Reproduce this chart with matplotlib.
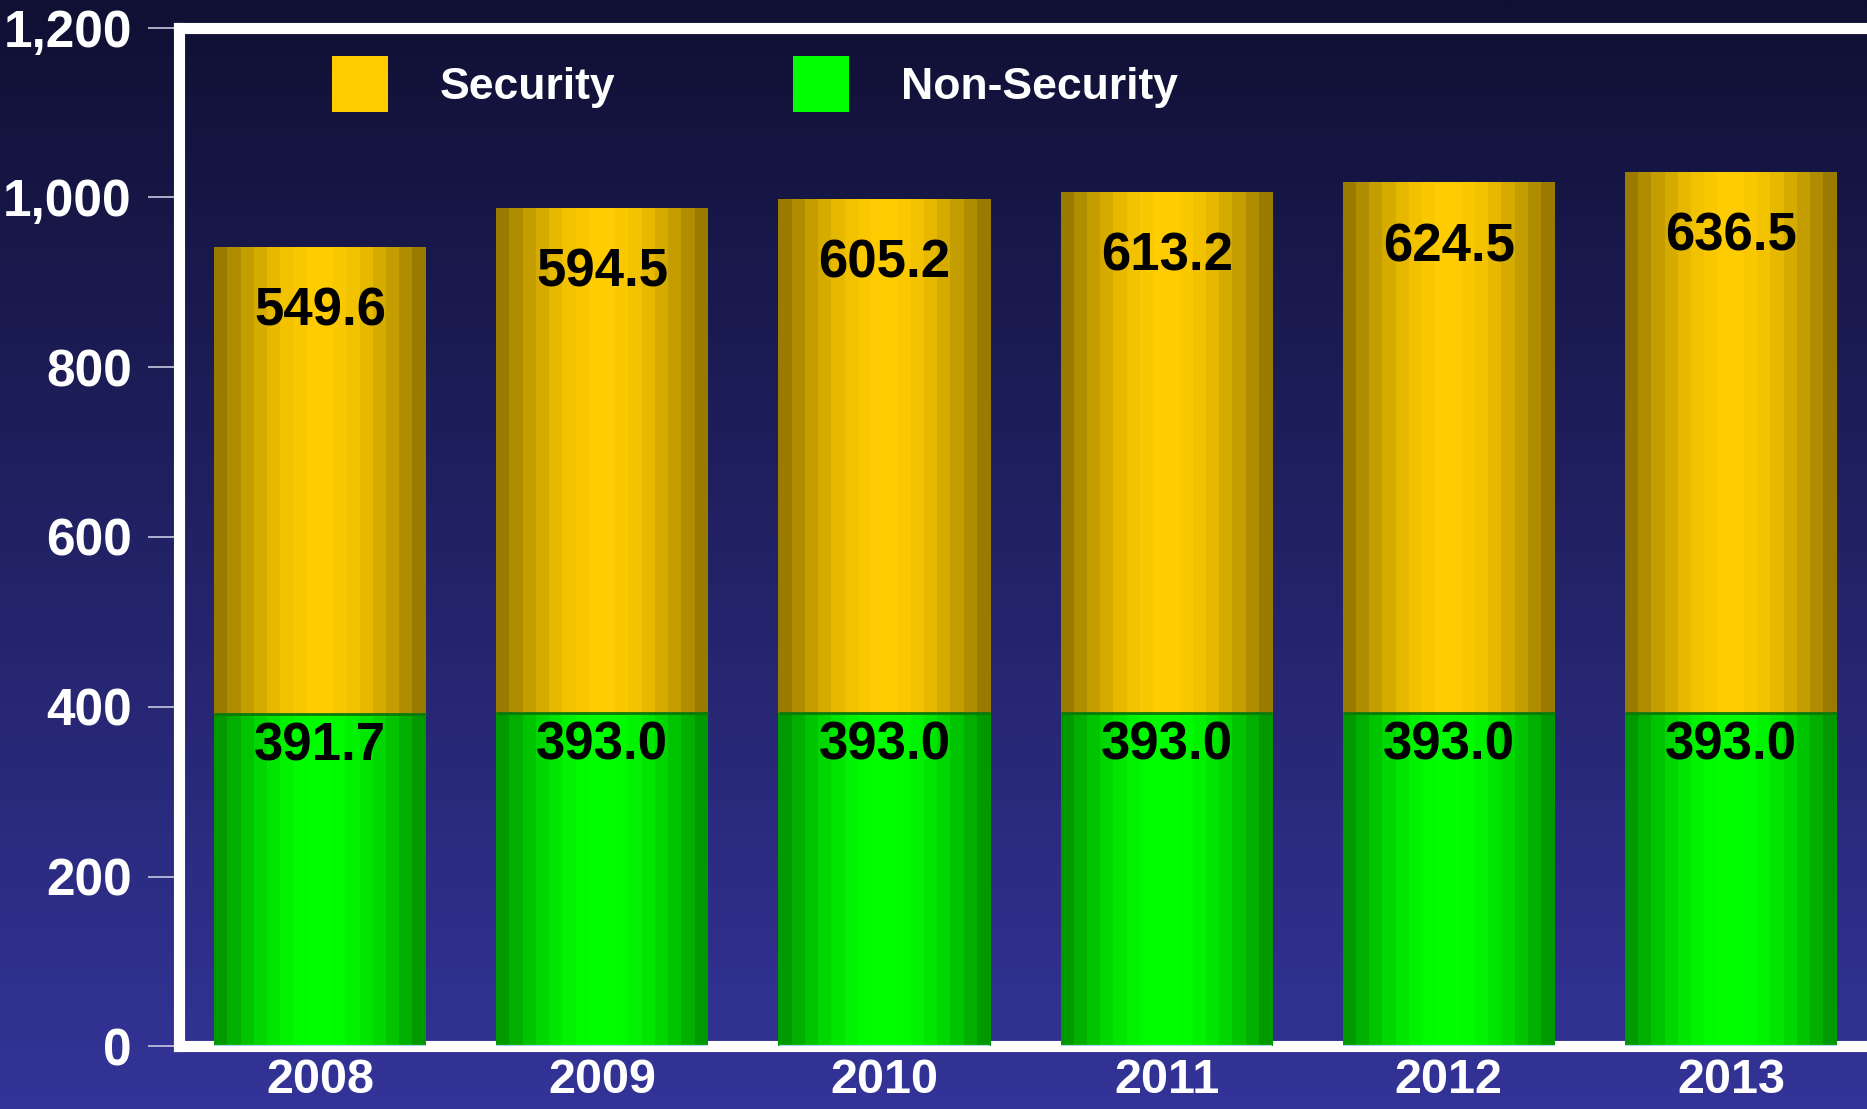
import numpy as np
import matplotlib
matplotlib.use("Agg")
import matplotlib.pyplot as plt
from matplotlib import font_manager
from matplotlib.colors import LinearSegmentedColormap, to_rgb
from matplotlib.patches import Patch
from matplotlib.ticker import FixedLocator, FuncFormatter

# ---- data -------------------------------------------------------------
years = ["2008", "2009", "2010", "2011", "2012", "2013"]
non_security = [391.7, 393.0, 393.0, 393.0, 393.0, 393.0]
security = [549.6, 594.5, 605.2, 613.2, 624.5, 636.5]
y_ticks = [0, 200, 400, 600, 800, 1000, 1200]
series_names = ["Security", "Non-Security"]

# ---- style ------------------------------------------------------------
available = {f.name for f in font_manager.fontManager.ttflist}
base = "Liberation Sans Narrow" if "Liberation Sans Narrow" in available else "Liberation Sans"
plt.rcParams["font.family"] = [base, "DejaVu Sans"]
plt.rcParams["font.weight"] = "bold"

yellow = "#ffcc00"
green = "#00ff00"
bg_top = "#101034"
bg_bottom = "#343499"

fig = plt.figure(figsize=(18.67, 11.09), dpi=100)

# vertical gradient behind everything
bg = fig.add_axes([0, 0, 1, 1], zorder=-5)
grad = np.linspace(0, 1, 512).reshape(-1, 1)
cmap = LinearSegmentedColormap.from_list("bg", [bg_top, bg_bottom])
bg.imshow(grad, aspect="auto", cmap=cmap, extent=[0, 1, 0, 1], origin="upper")
bg.set_axis_off()

ax = fig.add_axes([0.0959, 0.0564, 0.9068, 0.9188])
ax.set_facecolor("none")

x = np.arange(len(years))
bar_w = 0.75
n_strips = 16
edges = np.linspace(-bar_w / 2, bar_w / 2, n_strips + 1)
centers = (edges[:-1] + edges[1:]) / 2
t = centers / (bar_w / 2)
shade = 0.56 + 0.44 * np.cos(t * np.pi / 2)
strip_w = bar_w / n_strips

# cylinder-like shading: each bar is a row of narrow vertical strips
for k in range(n_strips):
    ax.bar(x + centers[k], non_security, width=strip_w * 1.04,
           color=np.clip(np.array(to_rgb(green)) * shade[k], 0, 1),
           linewidth=0, zorder=3)
    ax.bar(x + centers[k], security, bottom=non_security, width=strip_w * 1.04,
           color=np.clip(np.array(to_rgb(yellow)) * shade[k], 0, 1),
           linewidth=0, zorder=3)

# seam between the two segments and the base line
ax.hlines(non_security, x - bar_w / 2, x + bar_w / 2, color="#0b7a0b", lw=2, zorder=4)
ax.hlines([0] * len(x), x - bar_w / 2, x + bar_w / 2, color="#a8d8e8", lw=1.6, zorder=4)

# value labels
for xi, ns, sec in zip(x, non_security, security):
    ax.text(xi, ns + sec - 76, f"{sec:.1f}", ha="center", va="center",
            fontsize=38, fontweight="bold", color="black", zorder=5)
    ax.text(xi, ns - 38, f"{ns:.1f}", ha="center", va="center",
            fontsize=38, fontweight="bold", color="black", zorder=5)

ax.set_xlim(-0.5, 5.5)
ax.set_ylim(0, 1200)

# axes frame
for side in ["left", "top", "bottom"]:
    ax.spines[side].set_color("white")
    ax.spines[side].set_linewidth(8)
    ax.spines[side].set_zorder(2)
ax.spines["right"].set_visible(False)

ax.yaxis.set_major_locator(FixedLocator(y_ticks))
ax.yaxis.set_major_formatter(FuncFormatter(lambda v, p: f"{int(v):,}"))
ax.tick_params(axis="y", which="major", direction="out", length=22, width=1.2,
               color="#c8c8e0", labelcolor="white", labelsize=37, pad=12)

ax.set_xticks(x)
ax.set_xticklabels(years)
ax.tick_params(axis="x", which="major", length=0, labelcolor="white",
               labelsize=35, pad=8)
ax.xaxis.set_minor_locator(FixedLocator(x[:-1] + 0.5))
ax.tick_params(axis="x", which="minor", direction="inout", length=2.5,
               width=2.5, color="black")

for lbl in ax.get_xticklabels() + ax.get_yticklabels():
    lbl.set_fontweight("bold")

handles = [Patch(facecolor=yellow, edgecolor="none"),
           Patch(facecolor=green, edgecolor="none")]
leg = fig.legend(handles, series_names, loc="upper left",
                 bbox_to_anchor=(0.178, 0.9495), ncol=2, frameon=False,
                 fontsize=32, handlelength=1.26, handleheight=1.57,
                 handletextpad=1.16, columnspacing=4.0,
                 borderpad=0, borderaxespad=0)
for txt in leg.get_texts():
    txt.set_color("white")
    txt.set_fontweight("bold")

fig.savefig("out.png", dpi=100)
